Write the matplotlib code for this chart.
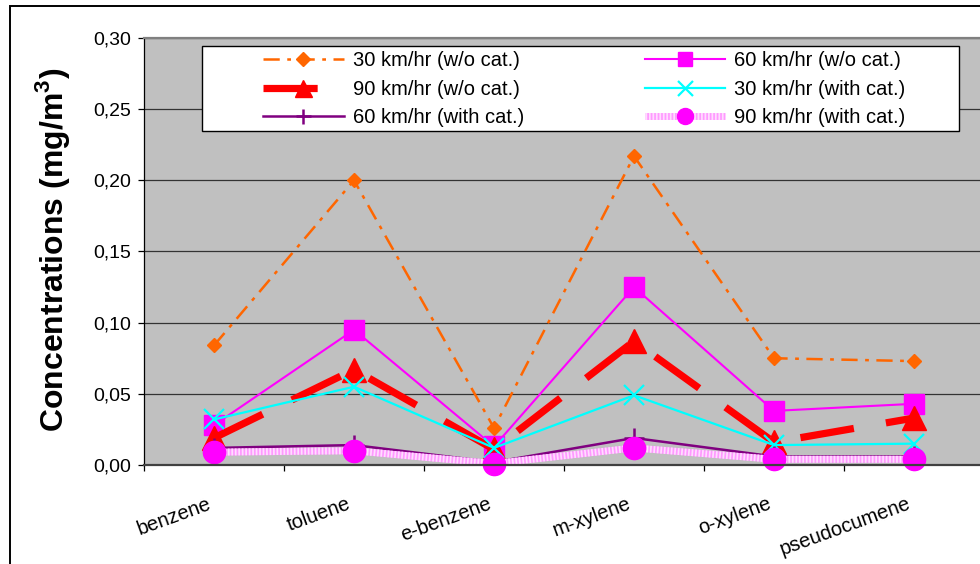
import numpy as np
import matplotlib
matplotlib.use("Agg")
import matplotlib.pyplot as plt
from matplotlib.patches import Rectangle
from matplotlib.ticker import FixedLocator, FuncFormatter, NullFormatter

plt.rcParams['font.family'] = ['Liberation Sans', 'DejaVu Sans']
plt.rcParams['mathtext.fontset'] = 'custom'
plt.rcParams['mathtext.rm'] = 'Liberation Sans'
plt.rcParams['mathtext.bf'] = 'Liberation Sans:bold'

# ---- data -------------------------------------------------------------
categories = ['benzene', 'toluene', 'e-benzene', 'm-xylene', 'o-xylene', 'pseudocumene']
series_labels = ['30 km/hr (w/o cat.)', '60 km/hr (w/o cat.)', '90 km/hr (w/o cat.)',
                 '30 km/hr (with cat.)', '60 km/hr (with cat.)', '90 km/hr (with cat.)']
v30_wo = [0.084, 0.200, 0.026, 0.217, 0.075, 0.073]
v60_wo = [0.028, 0.095, 0.013, 0.125, 0.038, 0.043]
v90_wo = [0.019, 0.067, 0.011, 0.087, 0.016, 0.033]
v30_w = [0.032, 0.055, 0.012, 0.049, 0.014, 0.015]
v60_w = [0.012, 0.014, 0.002, 0.019, 0.006, 0.006]
v90_w = [0.009, 0.010, 0.001, 0.012, 0.004, 0.004]
y_ticks = [0.00, 0.05, 0.10, 0.15, 0.20, 0.25, 0.30]

W, H = 980, 564
fig = plt.figure(figsize=(W / 100, H / 100), dpi=100)
fig.patch.set_facecolor('white')


def fx(px):
    return px / W


def fy(py):
    return 1 - py / H


# outer chart border (runs off the right/bottom edges)
fig.add_artist(Rectangle((fx(10), -0.2), 1.3, fy(6) + 0.2, transform=fig.transFigure,
                         fill=False, edgecolor='black', lw=1.4))

ax = fig.add_axes([fx(144), fy(465), fx(984) - fx(144), fy(38) - fy(465)])
ax.set_facecolor('#C0C0C0')
x = np.arange(len(categories))
ax.set_xlim(-0.5, len(categories) - 0.5)
ax.set_ylim(y_ticks[0], y_ticks[-1])

ax.yaxis.set_major_locator(FixedLocator(y_ticks))
ax.yaxis.set_major_formatter(FuncFormatter(lambda v, p: f"{v:.2f}".replace('.', ',')))
ax.yaxis.grid(True, color='#333333', lw=0.9)
ax.set_axisbelow(True)
ax.tick_params(axis='y', direction='out', length=4, width=0.9, pad=5, labelsize=14, colors='black')

ax.xaxis.set_major_locator(FixedLocator(np.arange(-0.5, len(categories), 1.0)))
ax.xaxis.set_major_formatter(NullFormatter())
ax.tick_params(axis='x', direction='out', length=4, width=0.9, colors='black')

for c_i, name in enumerate(categories):
    ax.annotate(name, xy=(c_i, 0), xycoords=('data', 'axes fraction'),
                xytext=(-5, -21), textcoords='offset points',
                rotation=20, rotation_mode='anchor', ha='right', va='top', fontsize=14.5)

ax.spines['top'].set_color('#808080')
ax.spines['top'].set_linewidth(1.6)
ax.spines['bottom'].set_color('#404040')
ax.spines['bottom'].set_linewidth(1.6)
ax.spines['left'].set_color('black')
ax.spines['left'].set_linewidth(0.9)
ax.spines['right'].set_visible(False)

# ---- series -----------------------------------------------------------
h0, = ax.plot(x, v30_wo, color='#FF6600', lw=1.8, dashes=(6.5, 3, 1.5, 3),
              marker='D', ms=7.6, mfc='#FF6600', mec='#FF6600', clip_on=False)
h1, = ax.plot(x, v60_wo, color='#FF00FF', lw=1.5, marker='s', ms=14.5,
              mfc='#FF00FF', mec='#FF00FF', clip_on=False)
h2, = ax.plot(x, v90_wo, color='#FF0000', lw=5.2, dashes=(7.5, 4.5), marker='^', ms=17,
              mfc='#FF0000', mec='#FF0000', clip_on=False)
h3, = ax.plot(x, v30_w, color='#00FFFF', lw=1.6, marker='x', ms=15, mew=1.6,
              mec='#00FFFF', clip_on=False)
h4, = ax.plot(x, v60_w, color='#800080', lw=1.8, marker='+', ms=15, mew=1.8,
              mec='#800080', clip_on=False)
h5a, = ax.plot(x, v90_w, color='#FF99FF', lw=5, solid_capstyle='butt', clip_on=False)
h5b, = ax.plot(x, v90_w, color='#FFDDFF', lw=5, dashes=(0.25, 0.25), clip_on=False)
h5c, = ax.plot(x, v90_w, ls='none', marker='o', ms=16, mfc='#FF00FF', mec='#FF00FF',
               clip_on=False)

handles = [h0, h2, h4, h1, h3, (h5a, h5b, h5c)]
labels = [series_labels[i] for i in (0, 2, 4, 1, 3, 5)]

# legend box
fig.add_artist(Rectangle((fx(202), fy(131)), fx(959) - fx(202), fy(46) - fy(131),
                         transform=fig.transFigure, facecolor='white',
                         edgecolor='black', lw=1.0, zorder=5))
leg = fig.legend(handles, labels, loc='upper left', bbox_to_anchor=(fx(263), fy(51)),
                 ncols=2, frameon=False, fontsize=14.5, borderpad=0, borderaxespad=0,
                 handlelength=4.0, handletextpad=0.45, columnspacing=6.0,
                 labelspacing=0.48, numpoints=1, markerscale=0.72)
leg.set_zorder(6)
# keep the small diamond at a readable size in the key
leg.legend_handles[0].set_markersize(7)

fig.text(fx(52), fy(250), r'Concentrations (mg/m$^{\mathbf{3}}$)', rotation=90,
         ha='center', va='center', fontsize=23, fontweight='bold')

fig.savefig('out.png', dpi=100)
